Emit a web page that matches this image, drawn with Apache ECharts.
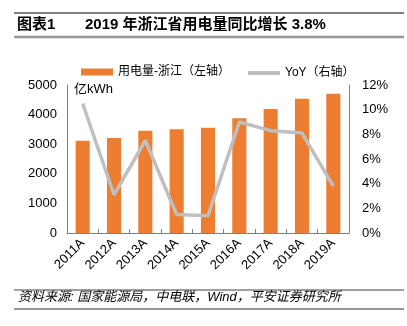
<!DOCTYPE html>
<html>
<head>
<meta charset="utf-8">
<script src="https://cdn.jsdelivr.net/npm/echarts@6/dist/echarts.min.js"></script>
<style>html,body{margin:0;padding:0;background:#fff}#c{width:407px;height:326px}</style>
</head>
<body>
<div id="c"></div>
<script>
var categories = ['2011A','2012A','2013A','2014A','2015A','2016A','2017A','2018A','2019A'];
var usage = [3117, 3211, 3453, 3506, 3554, 3873, 4193, 4533, 4706];
var yoy = [10.5, 3.1, 7.5, 1.5, 1.4, 9.0, 8.3, 8.1, 3.8];
var leftTicks = [0, 1000, 2000, 3000, 4000, 5000];
var rightTicks = [0, 2, 4, 6, 8, 10, 12];

var FONT = '"Liberation Sans", "Noto Sans CJK SC", sans-serif';
var chart = echarts.init(document.getElementById('c'), null, {renderer: 'canvas'});
chart.setOption({
  animation: false,
  textStyle: {fontFamily: FONT},
  grid: {left: 67, right: 58, top: 85, bottom: 93, containLabel: false},
  legend: [
    {left: 76, top: 61, itemWidth: 32, itemHeight: 7, itemGap: 20,
     textStyle: {fontSize: 12, color: '#000', fontFamily: FONT},
     data: [{name: '用电量-浙江（左轴）', icon: 'rect'}]},
    {left: 243, top: 62, itemWidth: 32, itemHeight: 4,
     textStyle: {fontSize: 12, color: '#000', fontFamily: FONT},
     data: [{name: 'YoY（右轴）', icon: 'rect', itemStyle: {color: '#BFBFBF'}}]}
  ],
  xAxis: {
    type: 'category', data: categories,
    axisLine: {lineStyle: {color: '#808080', width: 1}},
    axisTick: {show: true, inside: true, length: 4, lineStyle: {color: '#808080'}},
    axisLabel: {rotate: 45, fontSize: 13, color: '#000', margin: 8, fontFamily: FONT}
  },
  yAxis: [
    {type: 'value', min: leftTicks[0], max: leftTicks[leftTicks.length-1], interval: 1000,
     axisLine: {show: true, lineStyle: {color: '#808080'}},
     axisTick: {show: false},
     splitLine: {show: false},
     axisLabel: {fontSize: 13, color: '#000', margin: 10, fontFamily: FONT,
                 formatter: function (v) { return String(v); }}},
    {type: 'value', min: rightTicks[0], max: rightTicks[rightTicks.length-1], interval: 2,
     axisLine: {show: true, lineStyle: {color: '#808080'}},
     axisTick: {show: false},
     splitLine: {show: false},
     axisLabel: {fontSize: 13, color: '#000', margin: 13, fontFamily: FONT, formatter: '{value}%'}}
  ],
  series: [
    {name: '用电量-浙江（左轴）', type: 'bar', data: usage, barWidth: '45%',
     itemStyle: {color: '#ED7D31'}, yAxisIndex: 0},
    {name: 'YoY（右轴）', type: 'line', data: yoy, yAxisIndex: 1, symbol: 'none',
     lineStyle: {color: '#BFBFBF', width: 3.5}, itemStyle: {color: '#BFBFBF'}}
  ],
  graphic: [
    {type: 'line', shape: {x1: 14, y1: 13, x2: 404, y2: 13}, style: {stroke: '#000', lineWidth: 1}},
    {type: 'line', shape: {x1: 14, y1: 37, x2: 404, y2: 37}, style: {stroke: '#999', lineWidth: 2.5}},
    {type: 'text', left: 17, top: 17, style: {text: '图表1', font: 'bold 15px ' + FONT, fill: '#000'}},
    {type: 'text', left: 85, top: 17, style: {text: '2019 年浙江省用电量同比增长 3.8%', font: 'bold 15px ' + FONT, fill: '#000'}},
    {type: 'text', left: 74, top: 83, style: {text: '亿kWh', font: '13px ' + FONT, fill: '#000'}},
    {type: 'line', shape: {x1: 14, y1: 290, x2: 404, y2: 290}, style: {stroke: '#808080', lineWidth: 1.5}},
    {type: 'line', shape: {x1: 14, y1: 309, x2: 404, y2: 309}, style: {stroke: '#333', lineWidth: 1}},
    {type: 'text', left: 18, top: 291, style: {text: '资料来源: 国家能源局，中电联，Wind，平安证券研究所', font: 'italic 13px ' + FONT, fill: '#000'}}
  ]
});
</script>
</body>
</html>
